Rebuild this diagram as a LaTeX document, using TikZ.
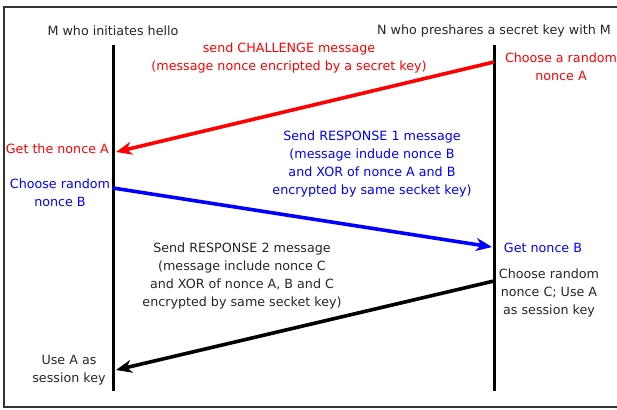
\documentclass[tikz,border=0pt]{standalone}
\usepackage{fontspec}
\setmainfont{DejaVu Sans}
\usetikzlibrary{arrows.meta}

\begin{document}
\begin{tikzpicture}[x=1pt,y=-1pt,
    lifeline/.style={line width=3pt},
    msgarrow/.style={line width=3.6pt,-{Stealth[length=16pt,width=13pt,inset=5pt]}},
    txt/.style={align=center,inner sep=0pt,font=\fontsize{12.7}{18}\selectfont}]

    \useasboundingbox (0,0) rectangle (617,409);
    % frame
    \draw[black!80, line width=1.2pt] (4,7) rectangle (625,407);

    % lifelines
    \coordinate (mtop) at (113,45);
    \coordinate (mbot) at (113,391);
    \coordinate (ntop) at (494,45);
    \coordinate (nbot) at (494,391);
    \draw[lifeline] (mtop) -- (mbot);
    \draw[lifeline] (ntop) -- (nbot);

    % message ends
    \coordinate (n1) at (494,62);
    \coordinate (m1) at (116,152);
    \coordinate (m2) at (113,188);
    \coordinate (n2) at (492,247);
    \coordinate (n3) at (494,281);
    \coordinate (m3) at (116,370);

    % headings
    \node[txt,text=black!85] (mhead) at (113,31) {M who initiates hello};
    \node[txt,text=black!85] (nhead) at (494,31) {N who preshares a secret key with M};

    % challenge
    \draw[msgarrow,red] (n1) -- (m1);
    \node[txt,text=red] (chal) at (289,58) {send CHALLENGE message\\(message nonce encripted by a secret key)};
    \node[txt,text=red] (noncea) at (561,67) {Choose a random\\nonce A};
    \node[txt,text=red,anchor=east] (geta) at (109,149) {Get the nonce A};

    % response 1
    \draw[msgarrow,blue] (m2) -- (n2);
    \node[txt,text=blue] (nonceb) at (60,193) {Choose random\\nonce B};
    \node[txt,text=blue] (resp1) at (372,164) {Send RESPONSE 1 message\\(message indude nonce B\\and XOR of nonce A and B\\encrypted by same secket key)};
    \node[txt,text=blue] (getb) at (543,248) {Get nonce B};

    % response 2
    \draw[msgarrow,black] (n3) -- (m3);
    \node[txt,text=black!85] (noncec) at (549,293) {Choose random\\nonce C; Use A\\as session key};
    \node[txt,text=black!85] (resp2) at (242,276) {Send RESPONSE 2 message\\(message include nonce C\\and XOR of nonce A, B and C\\encrypted by same secket key)};
    \node[txt,text=black!85] (usea) at (69,370) {Use A as\\session key};

\end{tikzpicture}
\end{document}
